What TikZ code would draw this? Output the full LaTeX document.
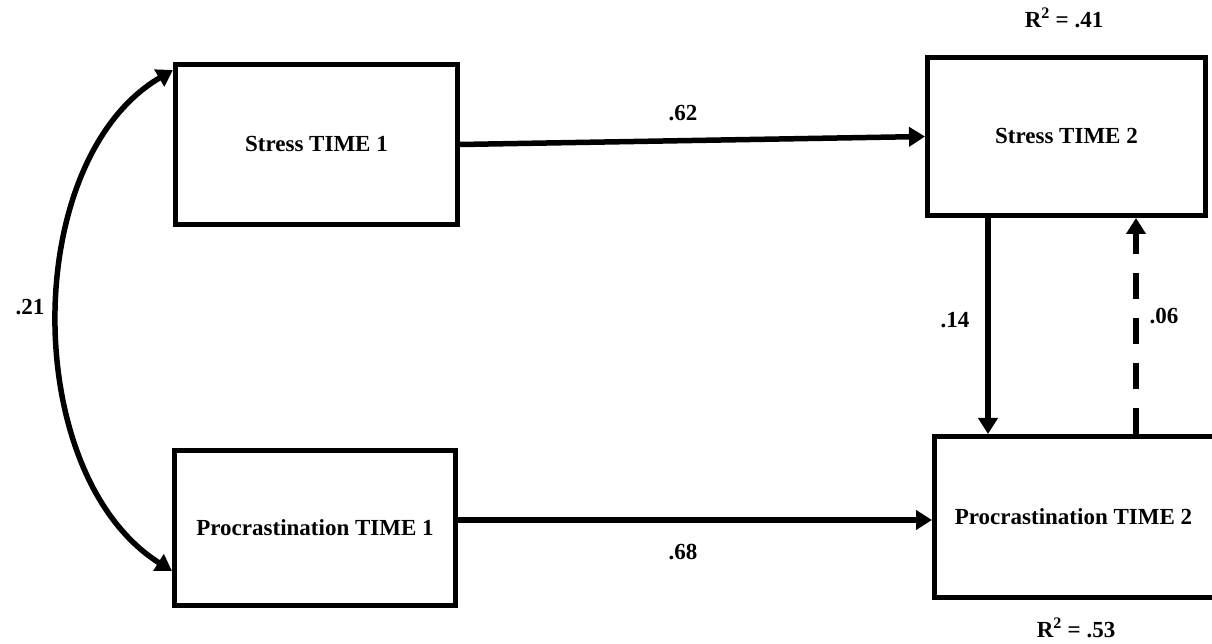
\documentclass[tikz,border=0pt]{standalone}
\usepackage{fontspec}
\setmainfont{Liberation Serif}
\usepackage{tikz}
\usetikzlibrary{arrows.meta,positioning,calc}

\tikzset{
  varbox/.style={draw, line width=5pt, rectangle, font=\fontsize{23}{27}\selectfont\bfseries},
  effect/.style={line width=5.5pt, -{Triangle[length=16pt,width=19pt]}},
  corr/.style={line width=5.5pt, {Triangle[length=16pt,width=19pt]}-{Triangle[length=16pt,width=19pt]}},
  coef/.style={font=\fontsize{23}{27}\selectfont\bfseries}
}

\begin{document}
\begin{tikzpicture}[x=1pt, y=1pt]
\path[use as bounding box, clip] (0,0) rectangle (1212,644);
\fill[white] (0,0) rectangle (1212,644);

% Variables
\node[varbox, minimum width=282pt, minimum height=160pt] (stressone) at (316.5,499.5) {Stress TIME 1};
\node[varbox, minimum width=278pt, minimum height=158pt] (stresstwo) at (1066.5,507.5) {Stress TIME 2};
\node[varbox, minimum width=281pt, minimum height=155pt] (procone) at (315,116) {Procrastination TIME 1};
\node[varbox, minimum width=286pt, minimum height=161pt] (proctwo) at (1077.5,127) {\hspace*{-8pt}Procrastination TIME 2};

% Stability paths
\draw[effect] (stressone.east) -- (stresstwo.west);
\draw[effect] ([yshift=8pt]procone.east) -- ([yshift=-3pt]proctwo.west);

% Cross-lagged paths
\draw[effect] ([xshift=-78.5pt]stresstwo.south) -- ([xshift=-78.5pt]stresstwo.south |- proctwo.north);
\draw[effect, dash pattern=on 26pt off 19pt] ([xshift=69.5pt]stresstwo.south |- proctwo.north) -- ([xshift=69.5pt]stresstwo.south);

% Correlation at time 1
\draw[corr] ([yshift=-8pt]stressone.north west) .. controls (20,484) and (20,169) .. ([yshift=-43pt]procone.west);

% Coefficients
\node[coef] (bss) at (683,531) {.62};
\node[coef] (bpp) at (683,92) {.68};
\node[coef] (rsp) at (30,337) {.21};
\node[coef] (bsp) at (955,324) {.14};
\node[coef] (bps) at (1164,328) {.06};

% Explained variance
\node[coef] (rstress) at (1064,626) {R\textsuperscript{2} = .41};
\node[coef] (rproc) at (1076,16) {R\textsuperscript{2} = .53};
\end{tikzpicture}
\end{document}
